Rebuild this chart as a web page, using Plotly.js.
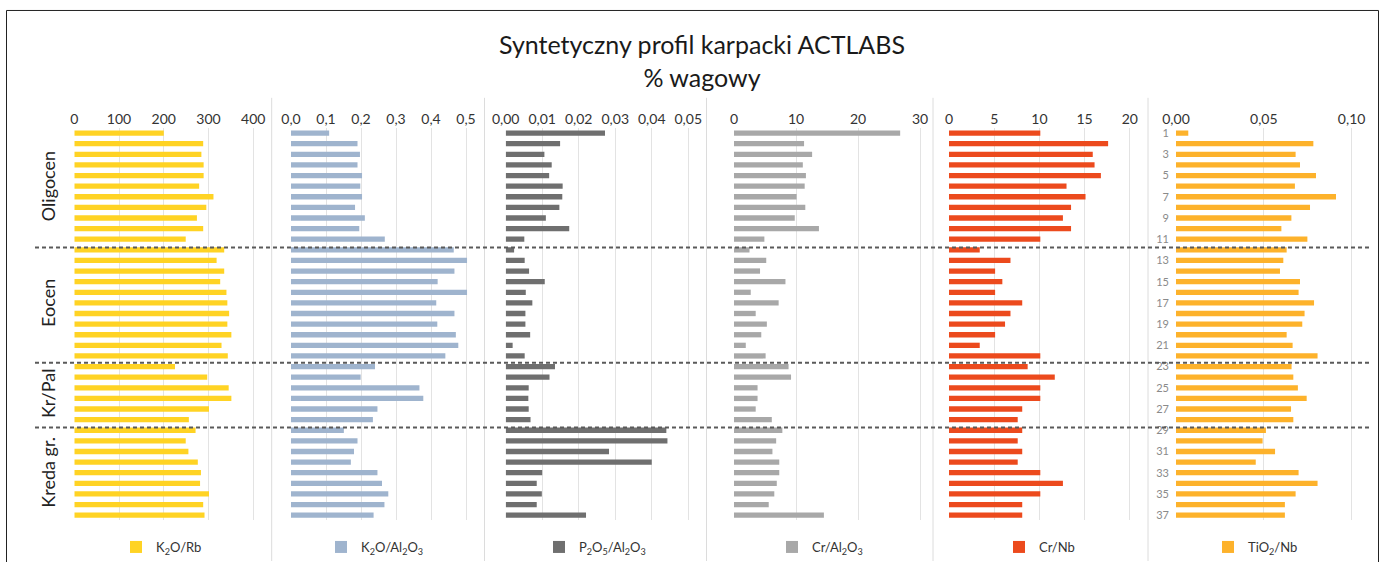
<!DOCTYPE html>
<html>
<head>
<meta charset="utf-8">
<script src="https://cdn.plot.ly/plotly-3.0.1.min.js"></script>
<style>html,body{margin:0;padding:0;background:#fff;}#chart{width:1386px;height:562px;}</style>
</head>
<body>
<div id="chart"></div>
<script>
// ---- data ----
const sampleNo = [1,2,3,4,5,6,7,8,9,10,11,12,13,14,15,16,17,18,19,20,21,22,23,24,25,26,27,28,29,30,31,32,33,34,35,36,37];
const rowTickLabels = [1,3,5,7,9,11,13,15,17,19,21,23,25,27,29,31,33,35,37];
const seriesNames = ['K<sub>2</sub>O/Rb','K<sub>2</sub>O/Al<sub>2</sub>O<sub>3</sub>','P<sub>2</sub>O<sub>5</sub>/Al<sub>2</sub>O<sub>3</sub>','Cr/Al<sub>2</sub>O<sub>3</sub>','Cr/Nb','TiO<sub>2</sub>/Nb'];
const k2oRb = [200,288,284,289,289,279,311,295,274,288,249,335,318,335,326,340,342,346,342,351,329,343,225,297,345,351,301,256,271,249,255,276,283,281,301,288,291];
const k2oAl2o3 = [0.109,0.190,0.197,0.190,0.203,0.198,0.203,0.183,0.211,0.195,0.268,0.465,0.503,0.467,0.419,0.503,0.415,0.467,0.418,0.471,0.478,0.441,0.240,0.199,0.367,0.378,0.247,0.234,0.151,0.190,0.180,0.171,0.247,0.260,0.278,0.267,0.236];
const p2o5Al2o3 = [0.0272,0.0149,0.0106,0.0126,0.0119,0.0156,0.0155,0.0147,0.0110,0.0174,0.0051,0.0023,0.0052,0.0064,0.0107,0.0055,0.0073,0.0054,0.0054,0.0067,0.0019,0.0052,0.0135,0.0120,0.0063,0.0062,0.0063,0.0068,0.0440,0.0443,0.0283,0.0400,0.0100,0.0085,0.0099,0.0085,0.0220];
const crAl2o3 = [26.8,11.3,12.6,11.1,11.6,11.4,10.1,11.5,9.8,13.7,4.9,2.5,5.2,4.2,8.3,2.7,7.2,3.5,5.3,4.4,1.9,5.1,8.8,9.2,3.8,3.8,3.5,6.1,7.8,6.8,6.2,7.3,7.3,6.9,6.5,5.6,14.5];
const crNb = [10.1,17.6,15.9,16.1,16.8,13.0,15.1,13.5,12.6,13.5,10.1,3.4,6.8,5.1,5.9,5.1,8.1,6.8,6.2,5.1,3.4,10.1,8.7,11.7,10.1,10.1,8.1,7.6,8.1,7.6,8.1,7.6,10.1,12.6,10.1,8.1,8.1];
const tio2Nb = [0.0070,0.0782,0.0681,0.0706,0.0797,0.0677,0.0911,0.0763,0.0657,0.0600,0.0748,0.0630,0.0611,0.0592,0.0706,0.0698,0.0786,0.0732,0.0719,0.0630,0.0664,0.0806,0.0658,0.0668,0.0694,0.0744,0.0655,0.0668,0.0512,0.0493,0.0564,0.0454,0.0698,0.0806,0.0681,0.0620,0.0620];
const groupNames = ['Oligocen','Eocen','Kr/Pal','Kreda gr.'];
const mainTitle = 'Syntetyczny profil karpacki ACTLABS<br>% wagowy';

// ---- layout helpers ----
const W = 1386, H = 562;
const px = v => v / W;
const py = v => 1 - v / H;
const FONT = 'Lato, "Noto Sans", sans-serif';
const colors = ['#FFD324','#9FB4CE','#6F6F6F','#A8A8A8','#EC4A1D','#FDB22B'];
const allValues = [k2oRb, k2oAl2o3, p2o5Al2o3, crAl2o3, crNb, tio2Nb];
const domainsPx = [[74.3,271.2],[291,483.5],[505.7,706.5],[734,932.4],[949,1147.9],[1176,1369.2]];
const ranges = [[0,440],[0,0.55],[0,0.055],[0,32],[0,22],[0,0.11]];
const dticks = [100,0.1,0.01,10,5,0.05];
const formats = ['d','.1f','.2f','d','d','.2f'];
const legendTextStart = [152,357,575,808,1035,1244];

const traces = [];
const layout = {
  width: W, height: H,
  margin: {l:0, r:0, t:0, b:0},
  paper_bgcolor: '#ffffff',
  plot_bgcolor: 'rgba(0,0,0,0)',
  separators: ', ',
  font: {family: FONT, color: '#333333', size: 14},
  bargap: 0.5,
  title: {text: mainTitle, x: 702/W, xanchor: 'center', y: py(54), yanchor: 'middle', yref: 'container',
          font: {family: FONT, size: 25, color: '#1a1a1a'}},
  shapes: [], annotations: []
};

const yDomain = [py(521.4), py(128)];
allValues.forEach((vals, i) => {
  const n = i + 1;
  const xName = n === 1 ? 'x' : 'x' + n;
  const xKey = n === 1 ? 'xaxis' : 'xaxis' + n;
  const yName = n === 6 ? 'y2' : 'y';
  const legName = n === 1 ? 'legend' : 'legend' + n;
  traces.push({
    type: 'bar', orientation: 'h', x: vals, y: sampleNo,
    xaxis: xName, yaxis: yName, name: seriesNames[i],
    marker: {color: colors[i], line: {width: 0}},
    legend: legName, showlegend: true, hoverinfo: 'x+y'
  });
  layout[xKey] = {
    domain: [px(domainsPx[i][0]), px(domainsPx[i][1])],
    range: ranges[i], side: 'top', anchor: yName,
    dtick: dticks[i], tick0: 0, tickformat: formats[i],
    showgrid: true, gridcolor: '#e3e3e3', gridwidth: 1,
    zeroline: false, showline: false, ticks: '',
    tickfont: {family: FONT, size: 14, color: '#333333'},
    fixedrange: true
  };
  layout[legName] = {
    x: px(legendTextStart[i] - 36), xanchor: 'left',
    y: py(548), yanchor: 'middle',
    orientation: 'h', bgcolor: 'rgba(0,0,0,0)', borderwidth: 0,
    itemwidth: 30, font: {family: FONT, size: 13, color: '#333333'}
  };
});

layout.yaxis = {domain: yDomain, range: [37.5, 0.5], anchor: 'x', showticklabels: false,
  showgrid: false, zeroline: false, ticks: '', fixedrange: true};
layout.yaxis2 = {domain: yDomain, range: [37.5, 0.5], anchor: 'x6', matches: 'y',
  tickmode: 'array', tickvals: rowTickLabels, ticktext: rowTickLabels.map(String),
  showgrid: false, zeroline: false, ticks: '', ticklabelstandoff: 6,
  tickfont: {family: FONT, size: 11, color: '#8a8a8a'}, fixedrange: true};

// outer frame
layout.shapes.push({type: 'path', xref: 'paper', yref: 'paper',
  path: `M ${px(6.5)} ${py(600)} L ${px(6.5)} ${py(10.5)} L ${px(1378.5)} ${py(10.5)} L ${px(1378.5)} ${py(600)}`,
  line: {color: '#222222', width: 1}});
// panel separators
[271.7, 484.5, 706.5, 933, 1148].forEach(xv => {
  layout.shapes.push({type: 'line', xref: 'paper', yref: 'paper',
    x0: px(xv), x1: px(xv), y0: py(98), y1: py(562),
    line: {color: '#dcdcdc', width: 1}, layer: 'below'});
});
// stratigraphic boundaries (dashed)
[11.79, 22.64, 28.75].forEach(yv => {
  layout.shapes.push({type: 'line', xref: 'paper', yref: 'y',
    x0: px(35), x1: px(1372), y0: yv, y1: yv,
    line: {color: '#5a5a5a', width: 2, dash: '4px,3px'}, layer: 'above'});
});
// group labels
const groupCentersRow = [6, 17, 25.5, 33];
groupNames.forEach((g, i) => {
  layout.annotations.push({text: g, xref: 'paper', yref: 'y', x: px(48), y: groupCentersRow[i],
    textangle: -90, showarrow: false, xanchor: 'center', yanchor: 'middle',
    font: {family: FONT, size: 18, color: '#222222'}});
});

Plotly.newPlot('chart', traces, layout, {displayModeBar: false, staticPlot: true});
</script>
</body>
</html>
